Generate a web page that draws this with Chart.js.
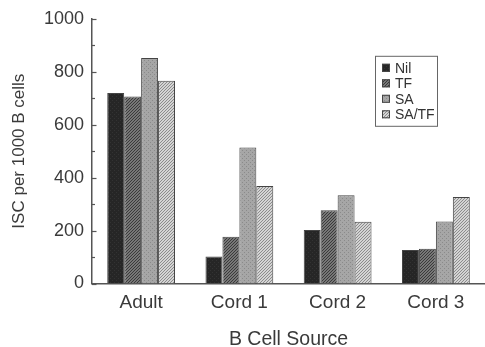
<!DOCTYPE html>
<html>
<head>
<meta charset="utf-8">
<script src="https://cdn.jsdelivr.net/npm/chart.js@4/dist/chart.umd.min.js"></script>
<style>
  html, body { margin: 0; padding: 0; background: #fff; }
  #wrap { width: 485px; height: 347px; position: relative; }
</style>
</head>
<body>
<div id="wrap"><canvas id="c"></canvas></div>
<script>
const categories = ["Adult", "Cord 1", "Cord 2", "Cord 3"];
const seriesNames = ["Nil", "TF", "SA", "SA/TF"];
const nilValues = [720, 102, 202, 127];
const tfValues = [706, 177, 277, 131];
const saValues = [852, 514, 333, 234];
const saTfValues = [766, 368, 233, 327];
const yTicks = [0, 200, 400, 600, 800, 1000];
const yTitle = "ISC per 1000 B cells";
const xTitle = "B Cell Source";

function makePattern(bg, line, spacing, stipple) {
  const c = document.createElement('canvas');
  c.width = spacing; c.height = spacing;
  const g = c.getContext('2d');
  g.fillStyle = bg; g.fillRect(0, 0, spacing, spacing);
  if (line) {
    g.strokeStyle = line; g.lineWidth = 1;
    g.beginPath();
    g.moveTo(0, spacing); g.lineTo(spacing, 0);
    g.moveTo(-1, 1); g.lineTo(1, -1);
    g.moveTo(spacing - 1, spacing + 1); g.lineTo(spacing + 1, spacing - 1);
    g.stroke();
  }
  if (stipple) {
    g.fillStyle = stipple;
    g.fillRect(0, 0, 1, 1); g.fillRect(2, 2, 1, 1);
  }
  return g.createPattern(c, 'repeat');
}

const fills = [
  makePattern('#262626', null, 4, '#333'),
  makePattern('#777777', '#3a3a3a', 3, null),
  makePattern('#a6a6a6', null, 4, '#8a8a8a'),
  makePattern('#d4d4d4', '#8c8c8c', 3, null)
];
const seriesValues = [nilValues, tfValues, saValues, saTfValues];

const yTickPlugin = {
  id: 'yTickPlugin',
  afterDraw(chart) {
    const s = chart.scales.y;
    const ctx = chart.ctx;
    ctx.save();
    ctx.strokeStyle = '#555';
    ctx.lineWidth = 1.2;
    for (let v = 0; v <= 1000; v += 100) {
      const y = Math.round(s.getPixelForValue(v)) + 0.5;
      const len = (v % 200 === 0) ? 4.5 : 3;
      ctx.beginPath();
      ctx.moveTo(s.right, y);
      ctx.lineTo(s.right + len, y);
      ctx.stroke();
    }
    ctx.restore();
  }
};

const legendPlugin = {
  id: 'boxLegend',
  afterDraw(chart) {
    const ctx = chart.ctx;
    const a = chart.chartArea;
    const x0 = a.left + 283, y0 = a.top + 37, w = 62, h = 70;
    ctx.save();
    ctx.strokeStyle = '#666';
    ctx.lineWidth = 1;
    ctx.strokeRect(x0 + 0.5, y0 + 0.5, w, h);
    ctx.font = '14px "Liberation Sans", Arial, sans-serif';
    ctx.textBaseline = 'middle';
    ctx.fillStyle = '#333';
    chart.data.datasets.forEach((ds, i) => {
      const cy = y0 + 12 + i * 15.5;
      ctx.fillStyle = ds.backgroundColor;
      ctx.fillRect(x0 + 7, cy - 4, 8, 8);
      ctx.strokeStyle = '#444';
      ctx.strokeRect(x0 + 7.5, cy - 3.5, 7, 7);
      ctx.fillStyle = '#333';
      ctx.fillText(ds.label, x0 + 20, cy + 1);
    });
    ctx.restore();
  }
};

new Chart(document.getElementById('c'), {
  type: 'bar',
  data: {
    labels: categories,
    datasets: seriesNames.map((n, i) => ({
      label: n,
      data: seriesValues[i],
      backgroundColor: fills[i],
      borderColor: '#444',
      borderWidth: 1,
      borderSkipped: 'bottom',
      categoryPercentage: 0.69,
      barPercentage: 1.0
    }))
  },
  options: {
    responsive: true,
    maintainAspectRatio: false,
    animation: false,
    devicePixelRatio: 1,
    layout: { padding: { top: 16, right: 0, left: 0, bottom: 0 } },
    plugins: { legend: { display: false }, tooltip: { enabled: false } },
    scales: {
      x: {
        grid: { display: false, drawTicks: false },
        border: { display: true, color: '#555', width: 1.5 },
        ticks: { color: '#3a3a3a', font: { family: '"Liberation Sans", Arial, sans-serif', size: 19 }, padding: 8, maxRotation: 0 },
        title: { display: true, text: xTitle, color: '#3a3a3a', font: { family: '"Liberation Sans", Arial, sans-serif', size: 19.5, lineHeight: 0.8 }, padding: { top: 14, bottom: 0 } },
        afterFit(s) { s.height = 347 - 283.5; }
      },
      y: {
        min: 0, max: 1000,
        afterBuildTicks(s) { s.ticks = yTicks.map(v => ({ value: v })); },
        grid: { display: false, drawTicks: false },
        border: { display: true, color: '#555', width: 1.5 },
        ticks: { color: '#3a3a3a', font: { family: '"Liberation Sans", Arial, sans-serif', size: 18 }, padding: 8, callback: v => String(v) },
        title: { display: true, text: yTitle, color: '#3a3a3a', font: { family: '"Liberation Sans", Arial, sans-serif', size: 17, lineHeight: 1.1 }, padding: { top: 10, bottom: 0 } },
        afterFit(s) { s.width = 92; }
      }
    }
  },
  plugins: [yTickPlugin, legendPlugin]
});
</script>
</body>
</html>
